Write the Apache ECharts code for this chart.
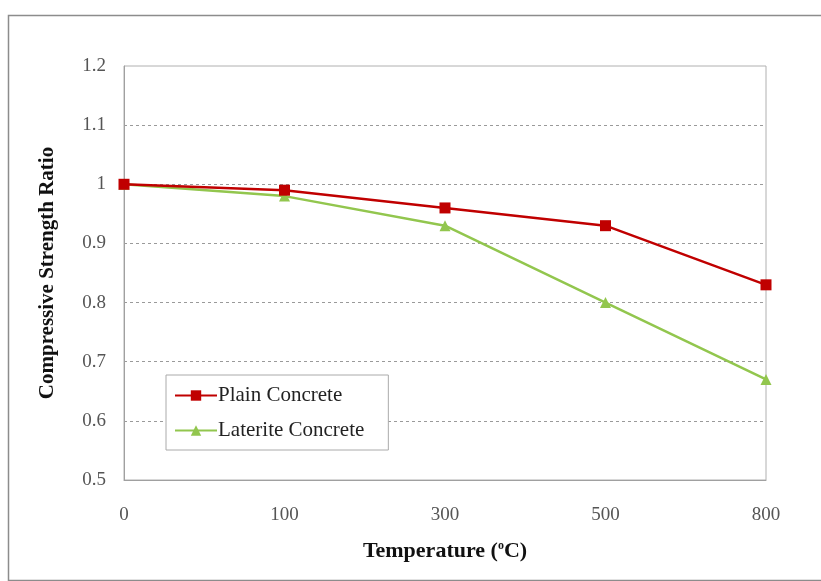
<!DOCTYPE html>
<html>
<head>
<meta charset="utf-8">
<script src="https://cdn.jsdelivr.net/npm/echarts@6/dist/echarts.min.js"></script>
<style>html,body{margin:0;padding:0;background:#fff}#c{width:821px;height:581px}</style>
</head>
<body>
<div id="c"></div>
<script>
var categories = ['0', '100', '300', '500', '800'];
var plainConcrete = [1.00, 0.99, 0.96, 0.93, 0.83];
var lateriteConcrete = [1.00, 0.98, 0.93, 0.80, 0.67];
var seriesNames = ['Plain Concrete', 'Laterite Concrete'];
var yTicks = { min: 0.5, max: 1.2, interval: 0.1 };

var serif = '"Liberation Serif", "DejaVu Serif", serif';
var chart = echarts.init(document.getElementById('c'));
chart.setOption({
  animation: false,
  backgroundColor: '#fff',
  graphic: [{
    type: 'rect', left: 6, top: 13, silent: true,
    shape: { width: 840, height: 565 },
    style: { fill: 'none', stroke: '#8c8c8c', lineWidth: 1.5 }
  }],
  grid: { left: 124, right: 55, top: 66, bottom: 101, show: true, borderColor: '#b0b0b0', borderWidth: 1 },
  xAxis: {
    type: 'category', data: categories, boundaryGap: false,
    name: '{t|Temperature (}{s|o}{t|C)}', nameLocation: 'middle', nameGap: 60,
    nameTextStyle: { rich: {
      t: { fontFamily: serif, fontWeight: 'bold', fontSize: 22, color: '#111' },
      s: { fontFamily: serif, fontWeight: 'bold', fontSize: 12, color: '#111', verticalAlign: 'top', padding: [0, 0, 9, 0] }
    } },
    axisLine: { lineStyle: { color: '#a0a0a0' } },
    axisTick: { show: false },
    axisLabel: { fontFamily: serif, fontSize: 19, color: '#555', margin: 26 },
    splitLine: { show: false }
  },
  yAxis: {
    type: 'value', min: yTicks.min, max: yTicks.max, interval: yTicks.interval,
    name: 'Compressive Strength Ratio', nameLocation: 'middle', nameGap: 66,
    nameTextStyle: { fontFamily: serif, fontWeight: 'bold', fontSize: 21, color: '#111' },
    axisLine: { show: true, lineStyle: { color: '#a0a0a0' } },
    axisTick: { show: false },
    axisLabel: { fontFamily: serif, fontSize: 19, color: '#555', margin: 18,
      formatter: function (v) { return String(Math.round(v * 10) / 10); } },
    splitLine: { show: true, showMinLine: false, showMaxLine: false, lineStyle: { color: '#9a9a9a', type: [3, 3], width: 1 } }
  },
  legend: {
    orient: 'vertical', left: 166, top: 375,
    padding: [10, 24, 9, 8], itemGap: 14, itemWidth: 42, itemHeight: 13,
    backgroundColor: '#fff', borderColor: '#aaa', borderWidth: 1, borderRadius: 0,
    textStyle: { fontFamily: serif, fontSize: 21, color: '#222', padding: [0, 0, 0, -4] },
    data: [seriesNames[0], seriesNames[1]]
  },
  series: [
    { name: seriesNames[0], type: 'line', data: plainConcrete, symbol: 'rect', symbolSize: 11,
      itemStyle: { color: '#c00000' }, lineStyle: { color: '#c00000', width: 2.5 }, z: 3 },
    { name: seriesNames[1], type: 'line', data: lateriteConcrete, symbol: 'triangle', symbolSize: 11,
      itemStyle: { color: '#92c64e' }, lineStyle: { color: '#92c64e', width: 2.5 }, z: 2 }
  ]
});
</script>
</body>
</html>
